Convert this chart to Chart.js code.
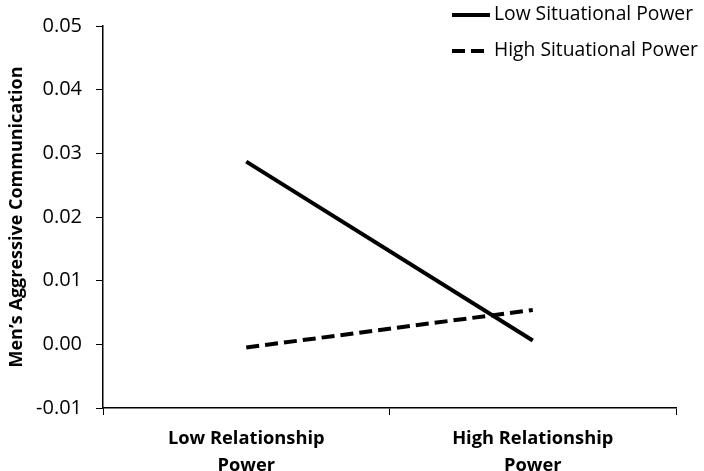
<!DOCTYPE html>
<html>
<head>
<meta charset="utf-8">
<script src="https://cdn.jsdelivr.net/npm/chart.js@4.4.0/dist/chart.umd.min.js"></script>
<style>
	html, body { margin: 0; padding: 0; background: #fff; }
	#wrap { width: 704px; height: 471px; }
</style>
</head>
<body>
<div id="wrap"><canvas id="canvasChart" width="704" height="471"></canvas></div>
<script>
"use strict";

// data
var categories = [['Low Relationship', 'Power'], ['High Relationship', 'Power']];
var seriesNames = ['Low Situational Power', 'High Situational Power'];
var lowSituational = [0.0287, 0.0006];
var highSituational = [-0.0005, 0.0054];
var yTicks = [-0.01, 0.00, 0.01, 0.02, 0.03, 0.04, 0.05];

// legend drawn inside the top right corner, like the original
var insideLegend = {
	id: 'insideLegend',
	afterDraw: function (chart, args, opts) {
		var ctx = chart.ctx;
		ctx.save();
		ctx.font = opts.font;
		ctx.fillStyle = '#000';
		ctx.textBaseline = 'middle';
		chart.data.datasets.forEach(function (ds, i) {
			var y = opts.top + i * opts.rowGap;
			ctx.beginPath();
			ctx.lineWidth = ds.borderWidth;
			ctx.strokeStyle = ds.borderColor;
			ctx.setLineDash(ds.borderDash || []);
			ctx.moveTo(opts.lineStart, y);
			ctx.lineTo(opts.lineEnd, y);
			ctx.stroke();
			ctx.setLineDash([]);
			ctx.fillText(ds.label, opts.textStart, y);
		});
		ctx.restore();
	}
};

const context = document.getElementById('canvasChart');
const myChart = new Chart(context, {
	type: 'line',
	data: {
		labels: categories,
		datasets: [{
			label: seriesNames[0],
			data: lowSituational,
			borderColor: '#000',
			backgroundColor: '#000',
			borderWidth: 4,
			pointRadius: 0,
			fill: false
		}, {
			label: seriesNames[1],
			data: highSituational,
			borderColor: '#000',
			backgroundColor: '#000',
			borderWidth: 4,
			borderDash: [13, 6],
			pointRadius: 0,
			fill: false
		}]
	},
	options: {
		responsive: false,
		animation: false,
		layout: { padding: { top: 22, right: 28, left: 0, bottom: 0 } },
		plugins: {
			legend: { display: false },
			tooltip: { enabled: false },
			insideLegend: {
				font: '19.3px "Open Sans"',
				top: 15,
				rowGap: 36,
				lineStart: 452,
				lineEnd: 490,
				textStart: 494
			}
		},
		scales: {
			x: {
				offset: true,
				grid: {
					offset: true,
					drawOnChartArea: false,
					drawTicks: true,
					tickLength: 7,
					color: '#000'
				},
				border: { display: true, color: '#000', width: 1.5 },
				ticks: {
					color: '#000',
					padding: 10,
					maxRotation: 0,
					font: { family: 'Open Sans', size: 18.3, weight: 'bold', lineHeight: '27px' }
				},
				afterFit: function (scale) { scale.height = 63; }
			},
			y: {
				min: yTicks[0],
				max: yTicks[yTicks.length - 1],
				afterBuildTicks: function (scale) {
					scale.ticks = yTicks.map(function (v) { return { value: v }; });
				},
				grid: {
					drawOnChartArea: false,
					drawTicks: true,
					tickLength: 7,
					color: '#000'
				},
				border: { display: true, color: '#000', width: 1.5 },
				ticks: {
					color: '#000',
					padding: 14,
					font: { family: 'Open Sans', size: 20 },
					callback: function (value) { return Number(value).toFixed(2); }
				},
				title: {
					display: true,
					text: 'Men\u2019s Aggressive Communication',
					color: '#000',
					padding: { top: 6, bottom: 0 },
					font: { family: 'Open Sans', size: 18, weight: 'bold' }
				},
				afterFit: function (scale) { scale.width = 103; }
			}
		}
	},
	plugins: [insideLegend]
});
</script>
</body>
</html>
